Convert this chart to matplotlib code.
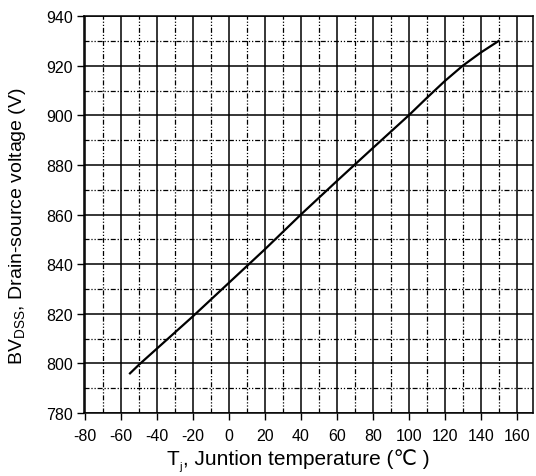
import matplotlib
matplotlib.use("Agg")
from matplotlib import pyplot as plt
from matplotlib.ticker import MultipleLocator

# BVdss vs junction temperature
temp_c = [-55, -50, -40, -20, 0, 20, 40, 60, 80, 100, 110, 120, 130, 140, 150]
bv_dss = [796, 799.5, 806, 819, 832.5, 846, 860, 873.5, 886.8, 900, 907, 913.8, 920, 925.3, 930]

x_ticks = list(range(-80, 161, 20))
y_ticks = list(range(780, 941, 20))

plt.rcParams['font.family'] = ['Liberation Sans', 'DejaVu Sans', 'Noto Sans CJK SC']
plt.rcParams['axes.unicode_minus'] = False

fig = plt.figure(figsize=(5.36, 4.77), dpi=100)
ax = fig.add_axes([0.157, 0.132, 0.837, 0.832])

ax.plot(temp_c, bv_dss, color='black', linewidth=1.6, zorder=5)

ax.set_xlim(-80.5, 169)
ax.set_ylim(780, 940)
ax.set_xticks(x_ticks)
ax.set_yticks(y_ticks)
ax.xaxis.set_minor_locator(MultipleLocator(10))
ax.yaxis.set_minor_locator(MultipleLocator(10))

# solid major grid, dash-dot-dot minor grid
ax.grid(which='major', color='black', linewidth=1.1, linestyle='-')
ax.grid(which='minor', color='black', linewidth=0.9,
        linestyle=(0, (4, 1.5, 1, 1.5, 1, 1.5)))
ax.tick_params(which='major', direction='out', length=5, width=1.0,
               labelsize=11.5, colors='black')
ax.tick_params(axis='x', pad=6)
ax.tick_params(axis='y', pad=3)
ax.tick_params(which='minor', length=0)
for sp in ax.spines.values():
    sp.set_linewidth(1.1)

ax.set_ylabel("BV$_\\mathregular{DSS}$, Drain-source voltage (V)", fontsize=14)
ax.yaxis.set_label_coords(-0.125, 0.474)

# x label pieced together so the degree-Celsius sign can fall back to another font
t1 = fig.text(0.31, 0.025, "T", fontsize=15, ha='left', va='baseline')
t2 = ax.annotate("j", xy=(1, 0.1), xycoords=t1, xytext=(0.5, 0),
                 textcoords='offset points', fontsize=8, ha='left', va='center')
t3 = ax.annotate(", Juntion temperature (℃ )", xy=(1, 0), xycoords=(t2, t1),
                 xytext=(0.5, 0), textcoords='offset points',
                 fontsize=15, ha='left', va='bottom')

fig.savefig("out.png", dpi=100)
